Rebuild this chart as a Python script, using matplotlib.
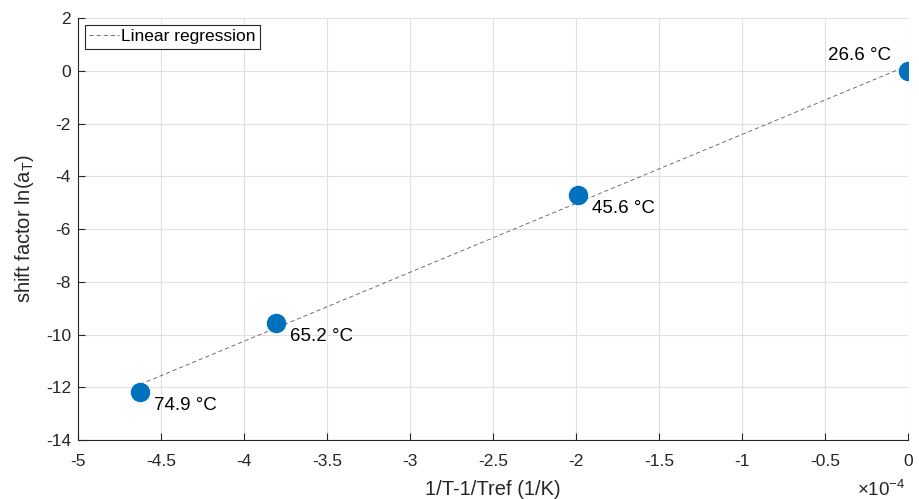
import numpy as np
import matplotlib
matplotlib.use("Agg")
import matplotlib.pyplot as plt

plt.rcParams['font.family'] = ['Liberation Sans', 'DejaVu Sans']
plt.rcParams['mathtext.fontset'] = 'custom'
plt.rcParams['mathtext.rm'] = 'Liberation Sans'
plt.rcParams['mathtext.it'] = 'Liberation Sans:italic'
plt.rcParams['axes.unicode_minus'] = False

# 1/T - 1/Tref (x 1e-4) と ln(aT)
inv_t = [-4.627, -3.806, -1.988, 0.0]
ln_at = [-12.17, -9.56, -4.71, 0.0]
temp_labels = ["74.9 °C", "65.2 °C", "45.6 °C", "26.6 °C"]

x_ticks = [-5, -4.5, -4, -3.5, -3, -2.5, -2, -1.5, -1, -0.5, 0]
y_ticks = [-14, -12, -10, -8, -6, -4, -2, 0, 2]

fig = plt.figure(figsize=(9.19, 4.99), dpi=100)
ax = fig.add_axes([0.0849, 0.1182, 0.9031, 0.8457])

# 線形回帰
coef = np.polyfit(inv_t, ln_at, 1)
xf = np.array([min(inv_t), max(inv_t)])
ax.plot(xf, np.polyval(coef, xf), '--', color=(0.35, 0.35, 0.35), lw=0.6,
        dashes=(5, 3.5), label="Linear regression", zorder=2)

ax.plot(inv_t, ln_at, 'o', color='#0072BD', markersize=13, zorder=3)

for x, y, s in zip(inv_t, ln_at, temp_labels):
    if x == 0:
        ax.annotate(s, (x, y), xytext=(-12, 11), textcoords='offset points',
                    ha='right', va='center', fontsize=13.5)
    else:
        ax.annotate(s, (x, y), xytext=(10, -10), textcoords='offset points',
                    ha='left', va='center', fontsize=13.5)

ax.set_xlim(-5, 0)
ax.set_ylim(-14, 2)
ax.set_xticks(x_ticks)
ax.set_xticklabels(["{:g}".format(v) for v in x_ticks])
ax.set_yticks(y_ticks)
ax.grid(True, color=(0.88, 0.88, 0.88), lw=0.8)
ax.set_axisbelow(True)
ax.tick_params(direction='in', length=5, labelsize=12.5, colors=(0.15, 0.15, 0.15),
               labelcolor=(0.15, 0.15, 0.15))
ax.tick_params(axis='x', pad=10)
ax.tick_params(axis='y', pad=5)
for side in ['top', 'right']:
    ax.spines[side].set_visible(False)
for side in ['left', 'bottom']:
    ax.spines[side].set_color((0.15, 0.15, 0.15))

ax.set_xlabel("1/T-1/Tref (1/K)", fontsize=14.5, labelpad=8,
              color=(0.15, 0.15, 0.15))
ax.set_ylabel(r"shift factor ln(a$_\mathrm{T}$)", fontsize=14.5, labelpad=7,
              color=(0.15, 0.15, 0.15))
ax.text(0.997, -0.095, r"$\times10^{-4}$", transform=ax.transAxes, ha='right',
        va='top', fontsize=13.5, color=(0.15, 0.15, 0.15))

leg = ax.legend(loc='upper left', fontsize=12.5, fancybox=False, framealpha=1,
                edgecolor=(0.15, 0.15, 0.15), borderpad=0.25, handlelength=1.7,
                handletextpad=0.15, borderaxespad=0.4)
leg.get_frame().set_linewidth(0.8)

fig.savefig("out.png", dpi=100)
